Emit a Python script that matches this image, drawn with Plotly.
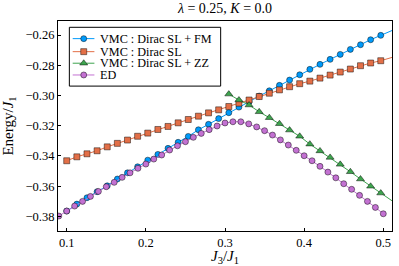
import plotly.graph_objects as go

# ---------------- data ----------------
J_vmc = [0.1, 0.1128, 0.1256, 0.1384, 0.1512, 0.164, 0.1768, 0.1896,
         0.2024, 0.2152, 0.228, 0.2408, 0.2536, 0.2664, 0.2792, 0.292,
         0.3048, 0.3176, 0.3304, 0.3432, 0.356, 0.3688, 0.3816, 0.3944,
         0.4072, 0.42, 0.4328, 0.4456, 0.4584, 0.4712, 0.484, 0.4968]

E_fm = [-0.3765, -0.3719, -0.3677, -0.3637, -0.3598, -0.3553, -0.3512, -0.3472,
        -0.3428, -0.3390, -0.3350, -0.3310, -0.3271, -0.3227, -0.3191, -0.3153,
        -0.3114, -0.3077, -0.3042, -0.3004, -0.2969, -0.2933, -0.2898, -0.2863,
        -0.2827, -0.2794, -0.2761, -0.2728, -0.2695, -0.2664, -0.2631, -0.2602]

E_dirac = [-0.3432, -0.3406, -0.3386, -0.3366, -0.3340, -0.3317, -0.3295, -0.3270,
           -0.3249, -0.3225, -0.3205, -0.3181, -0.3159, -0.3137, -0.3115, -0.3095,
           -0.3073, -0.3051, -0.3030, -0.3007, -0.2985, -0.2963, -0.2942, -0.2922,
           -0.2905, -0.2885, -0.2865, -0.2845, -0.2825, -0.2803, -0.2785, -0.2770]

J_zz = [0.3048, 0.3176, 0.3304, 0.3432, 0.356, 0.3688, 0.3816, 0.3944,
        0.4072, 0.42, 0.4328, 0.4456, 0.4584, 0.4712, 0.484, 0.4968]
E_zz = [-0.2991, -0.3030, -0.3063, -0.3108, -0.3147, -0.3187, -0.3229, -0.3270,
        -0.3322, -0.3367, -0.3410, -0.3456, -0.3505, -0.3553, -0.3601, -0.3646]

J_ed = [0.09, 0.10, 0.11, 0.12, 0.13, 0.14, 0.15, 0.16, 0.17, 0.18, 0.19,
        0.20, 0.21, 0.22, 0.23, 0.24, 0.25, 0.26, 0.27, 0.28, 0.29, 0.30,
        0.31, 0.32, 0.33, 0.34, 0.35, 0.36, 0.37, 0.38, 0.39, 0.40, 0.41,
        0.42, 0.43, 0.44, 0.45, 0.46, 0.47, 0.48, 0.49, 0.50]
E_ed = [-0.3798, -0.3765, -0.3732, -0.3701, -0.3668, -0.3635, -0.3604, -0.3575,
        -0.3542, -0.3512, -0.3482, -0.3454, -0.3421, -0.3394, -0.3361, -0.3333,
        -0.3306, -0.3277, -0.3251, -0.3226, -0.3202, -0.3182, -0.3174, -0.3174,
        -0.3188, -0.3208, -0.3233, -0.3262, -0.3294, -0.3328, -0.3363, -0.3399,
        -0.3432, -0.3469, -0.3507, -0.3545, -0.3584, -0.3621, -0.3661, -0.3701,
        -0.3741, -0.3783]

# the VMC connecting lines run on to the right frame
J_tail = 0.511
E_fm_tail = -0.2570
E_dirac_tail = -0.2748
E_zz_tail = -0.3697

labels = ["VMC : Dirac SL + FM", "VMC : Dirac SL", "VMC : Dirac SL + ZZ", "ED"]
x_ticks = [0.1, 0.2, 0.3, 0.4, 0.5]
y_ticks = [-0.38, -0.36, -0.34, -0.32, -0.30, -0.28, -0.26]

# ---------------- style ----------------
FONT = "Liberation Serif, Times New Roman, serif"
colors = ["#009AFA", "#E36F47", "#3EA44E", "#C371D2"]
symbols = ["circle", "square", "triangle-up", "circle"]
sizes = [6, 6, 7, 6]
STROKE = dict(color="rgba(0,0,0,0.65)", width=0.7)

series = [
    (J_vmc, E_fm, E_fm_tail),
    (J_vmc, E_dirac, E_dirac_tail),
    (J_zz, E_zz, E_zz_tail),
    (J_ed, E_ed, None),
]

fig = go.Figure()
for (xs, ys, tail), c, sym, sz, name in zip(series, colors, symbols, sizes, labels):
    lx = list(xs) + ([J_tail] if tail is not None else [])
    ly = list(ys) + ([tail] if tail is not None else [])
    fig.add_trace(go.Scatter(x=lx, y=ly, mode="lines", line=dict(color=c, width=1),
                             showlegend=False, hoverinfo="skip", cliponaxis=True))
    fig.add_trace(go.Scatter(x=xs, y=ys, mode="markers", name=name,
                             marker=dict(color=c, symbol=sym, size=sz, line=STROKE),
                             showlegend=False))

# ---------------- compact legend (drawn on a hidden overlay axis) ----------------
LEG_BOX = (0.034, 0.690, 0.487, 0.970)
LEG_Y = [0.916, 0.854, 0.799, 0.743]
LEG_LINE_X = (0.044, 0.109)
LEG_MARK_X = 0.077
LEG_TEXT_X = 0.121

fig.add_shape(type="rect", xref="x domain", yref="y domain",
              x0=LEG_BOX[0], y0=LEG_BOX[1], x1=LEG_BOX[2], y1=LEG_BOX[3],
              line=dict(color="black", width=1), fillcolor="white", layer="below")
for c, sym, sz, name, ly in zip(colors, symbols, sizes, labels, LEG_Y):
    fig.add_trace(go.Scatter(x=list(LEG_LINE_X), y=[ly, ly], xaxis="x2", yaxis="y2",
                             mode="lines", line=dict(color=c, width=1),
                             showlegend=False, hoverinfo="skip"))
    fig.add_trace(go.Scatter(x=[LEG_MARK_X], y=[ly], xaxis="x2", yaxis="y2",
                             mode="markers", marker=dict(color=c, symbol=sym, size=sz, line=STROKE),
                             showlegend=False, hoverinfo="skip"))
    fig.add_annotation(text=name, xref="x domain", yref="y domain", x=LEG_TEXT_X, y=ly,
                       xanchor="left", yanchor="middle", showarrow=False,
                       font=dict(family=FONT, size=12.2, color="black"))

axis_common = dict(showline=True, linecolor="black", linewidth=1, mirror=True,
                   ticks="inside", ticklen=3, tickwidth=1, tickcolor="black",
                   showgrid=False, zeroline=False, automargin=False,
                   tickfont=dict(family=FONT, size=12.5, color="black"))

fig.update_layout(
    template="none",
    width=399, height=266,
    margin=dict(l=58, r=7, t=21, b=35, autoexpand=False),
    paper_bgcolor="white", plot_bgcolor="white",
    showlegend=False,
    title=dict(text="<i>λ</i> = 0.25, <i>K</i> = 0.0", x=0.5, xref="paper",
               y=1 - 8.5 / 266, yref="container", xanchor="center", yanchor="middle",
               font=dict(family=FONT, size=14, color="black")),
    xaxis=dict(range=[0.089, 0.511], tickvals=x_ticks, tickformat=".1f",
               title=dict(text="<i>J</i><sub>3</sub>/<i>J</i><sub>1</sub>", standoff=3,
                          font=dict(family=FONT, size=15, color="black")),
               **axis_common),
    yaxis=dict(range=[-0.3897, -0.2507], tickvals=y_ticks, tickformat=".2f",
               title=dict(text="Energy/<i>J</i><sub>1</sub>", standoff=12,
                          font=dict(family=FONT, size=15, color="black")),
               **axis_common),
    xaxis2=dict(range=[0, 1], overlaying="x", visible=False, anchor="y2", automargin=False),
    yaxis2=dict(range=[0, 1], overlaying="y", visible=False, anchor="x2", automargin=False),
)

fig.write_html("out.html",
               config={"displayModeBar": False},
               post_script="document.body.style.margin='0';document.body.style.padding='0';")
